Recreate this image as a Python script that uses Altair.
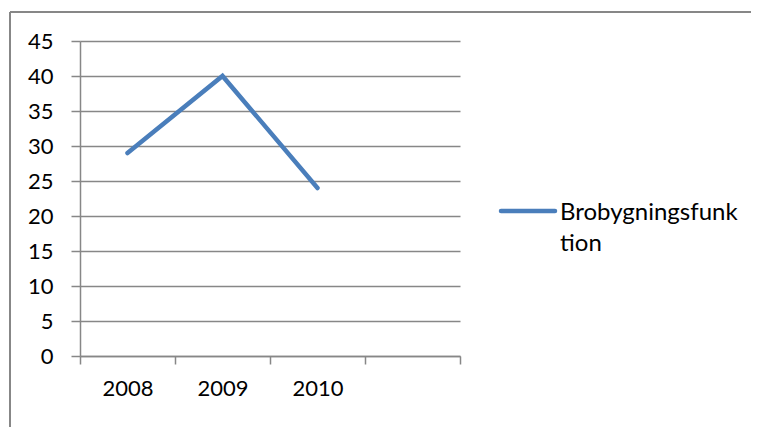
import altair as alt
import pandas as pd

years = ["2008", "2009", "2010"]
values = [29, 40, 24]
categories = ["2008", "2009", "2010", " "]
series_name = "Brobygningsfunktion"
legend_lines = ["Brobygningsfunk", "tion"]
y_ticks = [0, 5, 10, 15, 20, 25, 30, 35, 40, 45]

df = pd.DataFrame({"year": years, "value": values, "series": series_name})
one = pd.DataFrame({"series": [series_name]})

GRAY = "#878787"
BLUE = "#4A7EBB"
FONT = "Lato"
FS = 22
LFS = 24

line = alt.Chart(df).mark_line(color=BLUE, strokeWidth=4.5, strokeCap="round", strokeJoin="miter").encode(
    x=alt.X("year:O", bandPosition=0.5,
            scale=alt.Scale(type="band", domain=categories, paddingInner=0, paddingOuter=0),
            axis=alt.Axis(title=None, labelAngle=0, tickBand="extent", grid=False,
                          domainColor=GRAY, tickColor=GRAY, tickSize=8, domainWidth=1.5, tickWidth=1.5,
                          labelPadding=14, labelFont=FONT, labelFontSize=FS, labelColor="black")),
    y=alt.Y("value:Q", scale=alt.Scale(domain=[0, 45], nice=False, zero=True),
            axis=alt.Axis(title=None, values=y_ticks, grid=True, gridColor=GRAY, gridWidth=1.5,
                          domainColor=GRAY, tickColor=GRAY, tickSize=9, domainWidth=1.5, tickWidth=1.5,
                          labelPadding=18, labelFont=FONT, labelFontSize=FS, labelColor="black")),
)

legend_sym = alt.Chart(one).mark_rule(color=BLUE, strokeWidth=4.5, strokeCap="round").encode(
    x=alt.value(421), x2=alt.value(475), y=alt.value(170)
)
legend_txt = alt.Chart(one).mark_text(align="left", baseline="alphabetic", font=FONT, fontSize=LFS,
                                      fontWeight="normal", lineHeight=31, color="black").encode(
    x=alt.value(480), y=alt.value(179), text=alt.value(legend_lines)
)

border_top = alt.Chart(one).mark_rule(color=GRAY, strokeWidth=2).encode(
    x=alt.value(-70), x2=alt.value(671), y=alt.value(-29)
)
border_left = alt.Chart(one).mark_rule(color=GRAY, strokeWidth=2).encode(
    x=alt.value(-70), y=alt.value(-29), y2=alt.value(386)
)

chart = alt.layer(line, legend_sym, legend_txt, border_top, border_left).properties(
    width=380, height=315, autosize="none",
    padding={"left": 72, "top": 33, "right": 291, "bottom": 71},
).configure_view(stroke=None)

chart.save("out.html", embed_options={"renderer": "svg", "actions": False})
